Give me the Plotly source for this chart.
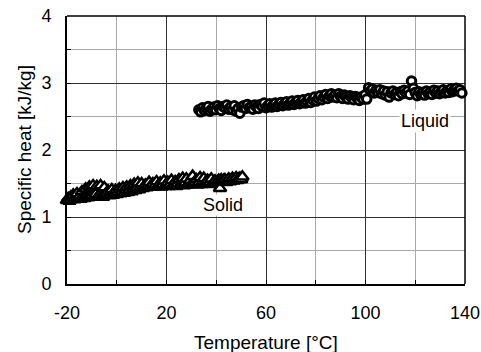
import plotly.graph_objects as go

# Solid phase data (Temperature °C, specific heat kJ/kg)
solid_t = [-20, -19.5, -19, -18.5, -18, -17.5, -17, -16.5, -16, -15.5,
           -15, -14.5, -14, -13.5, -13, -12.5, -12, -11.5, -11, -10.5,
           -10, -9.5, -9, -8.5, -8, -7.5, -7, -6.5, -6, -5.5,
           -5, -4.5, -4, -3.5, -3, -2.5, -2, -1.5, -1, -0.5,
           0, 0.5, 1, 1.5, 2, 2.5, 3, 3.5, 4, 4.5,
           5, 5.5, 6, 6.5, 7, 7.5, 8, 8.5, 9, 9.5,
           10, 10.5, 11, 11.5, 12, 12.5, 13, 13.5, 14, 14.5,
           15, 15.5, 16, 16.5, 17, 17.5, 18, 18.5, 19, 19.5,
           20, 20.5, 21, 21.5, 22, 22.5, 23, 23.5, 24, 24.5,
           25, 25.5, 26, 26.5, 27, 27.5, 28, 28.5, 29, 29.5,
           30, 30.5, 31, 31.5, 32, 32.5, 33, 33.5, 34, 34.5,
           35, 35.5, 36, 36.5, 37, 37.5, 38, 38.5, 39, 39.5,
           40, 40.5, 41, 41.5, 42, 42.5, 43, 43.5, 44, 44.5,
           45, 45.5, 46, 46.5, 47, 47.5, 48, 48.5, 49, 49.5,
           50, 50.5]
solid_cp = [1.25, 1.28, 1.24, 1.30, 1.27, 1.33, 1.26, 1.29, 1.35, 1.28,
            1.31, 1.27, 1.38, 1.30, 1.28, 1.42, 1.31, 1.29, 1.45, 1.30,
            1.32, 1.47, 1.30, 1.34, 1.46, 1.31, 1.33, 1.47, 1.32, 1.30,
            1.44, 1.33, 1.35, 1.39, 1.32, 1.34, 1.41, 1.33, 1.36, 1.40,
            1.34, 1.37, 1.42, 1.35, 1.38, 1.44, 1.36, 1.39, 1.45, 1.37,
            1.40, 1.47, 1.38, 1.41, 1.49, 1.40, 1.43, 1.51, 1.41, 1.44,
            1.50, 1.43, 1.45, 1.48, 1.44, 1.46, 1.52, 1.45, 1.47, 1.50,
            1.45, 1.48, 1.53, 1.46, 1.47, 1.51, 1.45, 1.49, 1.54, 1.46,
            1.48, 1.52, 1.46, 1.49, 1.55, 1.47, 1.48, 1.53, 1.46, 1.50,
            1.56, 1.48, 1.49, 1.58, 1.47, 1.51, 1.57, 1.48, 1.50, 1.55,
            1.49, 1.61, 1.50, 1.52, 1.56, 1.48, 1.51, 1.59, 1.49, 1.52,
            1.58, 1.50, 1.53, 1.55, 1.49, 1.52, 1.57, 1.50, 1.51, 1.54,
            1.50, 1.53, 1.55, 1.43, 1.56, 1.53, 1.55, 1.56, 1.52, 1.54,
            1.57, 1.53, 1.55, 1.58, 1.54, 1.56, 1.59, 1.55, 1.57, 1.58,
            1.56, 1.60]

# Liquid phase data
liquid_t = [33, 33.75, 34.5, 35.25, 36, 36.75, 37.5, 38.25,
            39, 39.75, 40.5, 41.25, 42, 42.75, 43.5, 44.25,
            45, 45.75, 46.5, 47.25, 48, 48.75, 49.5, 50.25,
            51, 51.75, 52.5, 53.25, 54, 54.75, 55.5, 56.25,
            57, 57.75, 58.5, 59.25, 60, 60.75, 61.5, 62.25,
            63, 63.75, 64.5, 65.25, 66, 66.75, 67.5, 68.25,
            69, 69.75, 70.5, 71.25, 72, 72.75, 73.5, 74.25,
            75, 75.75, 76.5, 77.25, 78, 78.75, 79.5, 80.25,
            81, 81.75, 82.5, 83.25, 84, 84.75, 85.5, 86.25,
            87, 87.75, 88.5, 89.25, 90, 90.75, 91.5, 92.25,
            93, 93.75, 94.5, 95.25, 96, 96.75, 97.5, 98.25,
            99, 99.75, 100.5, 101.25, 102, 102.75, 103.5, 104.25,
            105, 105.75, 106.5, 107.25, 108, 108.75, 109.5, 110.25,
            111, 111.75, 112.5, 113.25, 114, 114.75, 115.5, 116.25,
            117, 117.75, 118.5, 119.25, 120, 120.75, 121.5, 122.25,
            123, 123.75, 124.5, 125.25, 126, 126.75, 127.5, 128.25,
            129, 129.75, 130.5, 131.25, 132, 132.75, 133.5, 134.25,
            135, 135.75, 136.5, 137.25, 138, 138.75]
liquid_cp = [2.60, 2.57, 2.63, 2.59, 2.62, 2.65, 2.58, 2.61,
             2.64, 2.60, 2.66, 2.62, 2.59, 2.65, 2.63, 2.67,
             2.61, 2.64, 2.60, 2.66, 2.58, 2.62, 2.55, 2.64,
             2.66, 2.62, 2.68, 2.63, 2.65, 2.61, 2.67, 2.64,
             2.62, 2.68, 2.65, 2.70, 2.63, 2.66, 2.69, 2.64,
             2.67, 2.70, 2.65, 2.68, 2.71, 2.66, 2.69, 2.72,
             2.67, 2.70, 2.73, 2.68, 2.71, 2.74, 2.69, 2.72,
             2.75, 2.70, 2.73, 2.77, 2.71, 2.75, 2.79, 2.73,
             2.77, 2.81, 2.75, 2.79, 2.83, 2.77, 2.81, 2.84,
             2.79, 2.82, 2.78, 2.84, 2.80, 2.77, 2.82, 2.79,
             2.76, 2.81, 2.78, 2.75, 2.80, 2.77, 2.74, 2.79,
             2.76, 2.82, 2.76, 2.93, 2.88, 2.91, 2.85, 2.89,
             2.86, 2.90, 2.84, 2.88, 2.82, 2.87, 2.79, 2.85,
             2.88, 2.83, 2.86, 2.81, 2.87, 2.84, 2.89, 2.85,
             2.88, 2.83, 3.03, 2.92, 2.86, 2.81, 2.87, 2.83,
             2.86, 2.82, 2.88, 2.84, 2.87, 2.83, 2.89, 2.85,
             2.88, 2.84, 2.87, 2.90, 2.85, 2.88, 2.86, 2.91,
             2.87, 2.89, 2.92, 2.88, 2.90, 2.85]

x_ticks = [-20, 20, 60, 100, 140]
y_ticks = [0, 1, 2, 3, 4]

FONT = "Liberation Sans, Arial, sans-serif"

fig = go.Figure()
fig.add_trace(go.Scatter(
    x=solid_t, y=solid_cp, mode="markers", name="Solid", cliponaxis=False,
    marker=dict(symbol="triangle-up", size=11, color="white",
                line=dict(color="black", width=2.5)),
))
fig.add_trace(go.Scatter(
    x=liquid_t, y=liquid_cp, mode="markers", name="Liquid", cliponaxis=False,
    marker=dict(symbol="circle", size=8.5, color="white",
                line=dict(color="black", width=3)),
))

fig.update_layout(
    width=481, height=352,
    margin=dict(l=67, r=16, t=16, b=68, autoexpand=False),
    paper_bgcolor="white", plot_bgcolor="white",
    showlegend=False,
    font=dict(family=FONT, size=18, color="black"),
    xaxis=dict(
        range=[-20, 140], tickvals=x_ticks, ticktext=[str(v) for v in x_ticks],
        automargin=False,
        showgrid=True, gridcolor="#303030", gridwidth=1,
        minor=dict(dtick=20, tick0=-20, showgrid=True, gridcolor="#a8a8a8", gridwidth=1,
                   ticks="inside", ticklen=4, tickcolor="black"),
        ticks="inside", ticklen=4, tickcolor="black",
        showline=True, linecolor="black", linewidth=2,
        zeroline=False, ticklabelstandoff=11,
        tickfont=dict(family=FONT, size=18),
    ),
    yaxis=dict(
        range=[0, 4], tickvals=y_ticks, ticktext=[str(v) for v in y_ticks],
        automargin=False,
        showgrid=True, gridcolor="#303030", gridwidth=1,
        minor=dict(dtick=0.5, tick0=0, showgrid=True, gridcolor="#a8a8a8", gridwidth=1,
                   ticks="inside", ticklen=4, tickcolor="black"),
        ticks="inside", ticklen=4, tickcolor="black",
        showline=True, linecolor="black", linewidth=2,
        zeroline=False, ticklabelstandoff=10,
        tickfont=dict(family=FONT, size=18),
    ),
    shapes=[
        dict(type="line", xref="paper", yref="paper", x0=0, x1=1, y0=1, y1=1,
             line=dict(color="black", width=1.5)),
        dict(type="line", xref="paper", yref="paper", x0=1, x1=1, y0=0, y1=1,
             line=dict(color="black", width=1.5)),
    ],
    annotations=[
        dict(text="Solid", x=42.7, y=1.18, xref="x", yref="y", showarrow=False,
             font=dict(family=FONT, size=18), bgcolor="white", borderpad=0),
        dict(text="Liquid", x=124, y=2.43, xref="x", yref="y", showarrow=False,
             font=dict(family=FONT, size=18), bgcolor="white", borderpad=1),
        dict(text="Temperature [°C]", x=0.5, y=-0.218, xref="paper", yref="paper",
             xanchor="center", yanchor="middle",
             showarrow=False, font=dict(family=FONT, size=19)),
        dict(text="Specific heat [kJ/kg]", x=-0.108, y=0.5, xref="paper", yref="paper",
             xanchor="center", yanchor="middle",
             showarrow=False, textangle=-90, font=dict(family=FONT, size=19)),
    ],
)

fig.write_html("out.html")
